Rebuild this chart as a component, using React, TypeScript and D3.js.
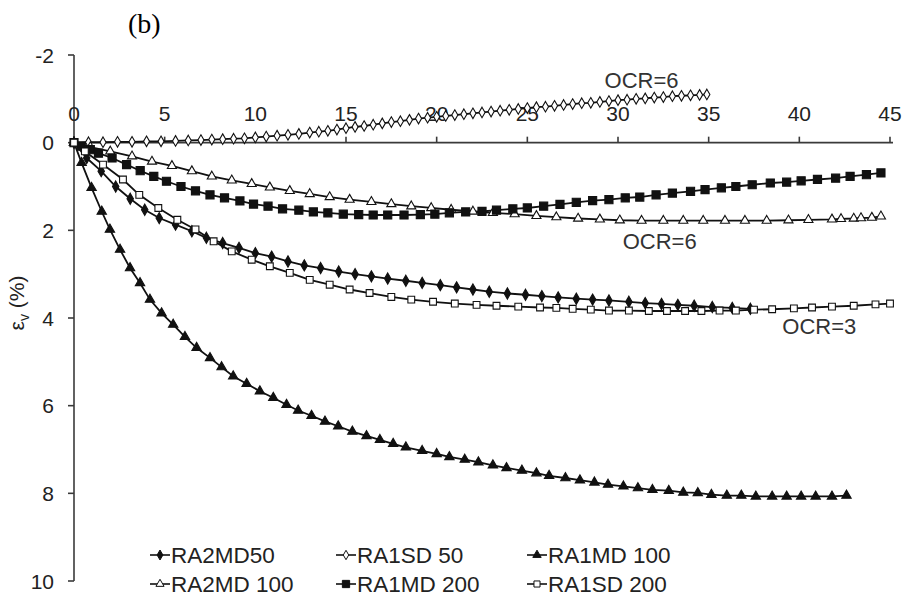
import React from 'react'
import * as d3 from 'd3'

// series, [displacement, strain] pairs
const ra2md50: [number, number][] = [[0,0],[0.7,0.35],[1.5,0.65],[2.3,1.0],[3.1,1.28],[3.9,1.53],[4.7,1.72],[5.6,1.87],[6.5,2.02],[7.3,2.17],[8.2,2.29],[9.1,2.4],[10.0,2.52],[10.9,2.6],[11.8,2.71],[12.7,2.8],[13.6,2.86],[14.6,2.94],[15.5,3.0],[16.4,3.05],[17.3,3.1],[18.3,3.15],[19.2,3.2],[20.2,3.25],[21.1,3.3],[22.0,3.35],[22.9,3.4],[23.9,3.44],[24.9,3.47],[25.8,3.5],[26.7,3.53],[27.7,3.56],[28.6,3.58],[29.5,3.6],[30.6,3.63],[31.5,3.66],[32.4,3.68],[33.3,3.7],[34.2,3.72],[35.2,3.75],[36.3,3.77],[37.3,3.79]]
const ra1sd50: [number, number][] = [[0,0],[0.8,-0.01],[1.6,-0.01],[2.4,-0.02],[3.2,-0.02],[4.0,-0.03],[4.8,-0.03],[5.6,-0.04],[6.3,-0.05],[7.0,-0.06],[7.6,-0.07],[8.2,-0.08],[8.8,-0.09],[9.4,-0.1],[10.0,-0.12],[10.6,-0.14],[11.2,-0.16],[11.8,-0.18],[12.4,-0.2],[13.0,-0.23],[13.5,-0.25],[14.0,-0.27],[14.5,-0.3],[15.0,-0.33],[15.5,-0.36],[16.0,-0.38],[16.5,-0.41],[17.0,-0.44],[17.5,-0.47],[18.0,-0.49],[18.5,-0.52],[19.0,-0.55],[19.5,-0.57],[20.0,-0.59],[20.5,-0.61],[21.0,-0.63],[21.5,-0.65],[22.0,-0.67],[22.5,-0.69],[23.0,-0.71],[23.5,-0.73],[24.0,-0.75],[24.5,-0.77],[25.0,-0.79],[25.5,-0.81],[26.0,-0.82],[26.5,-0.84],[27.0,-0.86],[27.5,-0.88],[28.0,-0.9],[28.5,-0.91],[29.0,-0.93],[29.5,-0.95],[30.0,-0.97],[30.5,-0.98],[31.0,-1.0],[31.5,-1.01],[32.0,-1.03],[32.5,-1.04],[33.0,-1.06],[33.5,-1.07],[34.0,-1.08],[34.5,-1.09],[34.9,-1.1]]
const ra1md100: [number, number][] = [[0,0],[0.42,0.46],[0.97,1.03],[1.53,1.57],[1.98,1.98],[2.54,2.44],[3.09,2.86],[3.64,3.2],[4.19,3.58],[4.83,3.89],[5.47,4.15],[6.12,4.43],[6.76,4.68],[7.5,4.91],[8.14,5.12],[8.78,5.33],[9.52,5.5],[10.25,5.67],[10.99,5.82],[11.72,5.98],[12.36,6.11],[13.1,6.23],[13.84,6.36],[14.57,6.47],[15.35,6.59],[16.13,6.69],[16.87,6.78],[17.6,6.87],[18.3,6.95],[19.2,7.03],[20.0,7.1],[20.7,7.17],[21.55,7.23],[22.3,7.29],[23.1,7.36],[23.85,7.42],[24.7,7.48],[25.5,7.54],[26.2,7.6],[27.1,7.65],[27.9,7.7],[28.7,7.75],[29.45,7.8],[30.3,7.84],[31.1,7.88],[31.9,7.92],[32.8,7.94],[33.6,7.98],[34.4,7.99],[35.15,8.03],[36.0,8.05],[36.8,8.05],[37.6,8.07],[38.5,8.07],[39.3,8.07],[40.1,8.07],[40.9,8.07],[41.8,8.07],[42.6,8.05]]
const ra2md100: [number, number][] = [[0,0],[0.9,0.1],[2.0,0.2],[3.2,0.31],[4.3,0.43],[5.4,0.53],[6.5,0.65],[7.6,0.77],[8.7,0.86],[9.8,0.94],[10.8,1.02],[11.9,1.1],[13.0,1.17],[14.1,1.24],[15.2,1.3],[16.4,1.35],[17.5,1.4],[18.6,1.45],[19.7,1.49],[20.8,1.53],[22.0,1.57],[23.1,1.6],[24.3,1.63],[25.5,1.67],[26.6,1.7],[27.8,1.73],[29.0,1.75],[30.1,1.77],[31.3,1.78],[32.5,1.78],[33.6,1.78],[34.7,1.78],[35.9,1.78],[37.0,1.78],[38.2,1.78],[39.4,1.77],[40.5,1.76],[41.8,1.75],[42.3,1.74],[43.0,1.73],[43.4,1.72],[44.0,1.71],[44.5,1.68]]
const ra1md200: [number, number][] = [[0,0],[0.4,0.08],[0.9,0.16],[1.35,0.24],[2.1,0.35],[2.9,0.5],[3.65,0.64],[4.4,0.77],[5.1,0.88],[5.9,1.0],[6.7,1.1],[7.5,1.19],[8.3,1.26],[9.15,1.33],[9.9,1.4],[10.7,1.45],[11.5,1.51],[12.4,1.54],[13.2,1.58],[14.0,1.6],[14.85,1.63],[15.7,1.64],[16.5,1.65],[17.3,1.65],[18.2,1.65],[19.1,1.64],[19.9,1.63],[20.7,1.6],[21.6,1.58],[22.5,1.57],[23.3,1.54],[24.2,1.51],[25.0,1.49],[25.9,1.45],[26.8,1.41],[27.7,1.36],[28.6,1.32],[29.5,1.3],[30.4,1.26],[31.2,1.24],[32.1,1.19],[33.0,1.15],[34.0,1.11],[34.8,1.07],[35.7,1.03],[36.5,1.0],[37.4,0.96],[38.4,0.92],[39.3,0.9],[40.1,0.87],[41.0,0.84],[42.0,0.81],[42.8,0.77],[43.7,0.73],[44.5,0.69]]
const ra1sd200: [number, number][] = [[0,0],[0.6,0.2],[1.6,0.5],[2.7,0.84],[3.6,1.19],[4.65,1.49],[5.7,1.76],[6.7,1.98],[7.7,2.25],[8.7,2.48],[9.8,2.67],[10.8,2.82],[11.9,2.97],[13.0,3.13],[14.1,3.24],[15.2,3.35],[16.3,3.43],[17.5,3.52],[18.6,3.58],[19.8,3.63],[21.0,3.67],[22.2,3.7],[23.3,3.72],[24.5,3.74],[25.7,3.76],[26.6,3.77],[27.5,3.79],[28.5,3.81],[29.5,3.83],[30.6,3.83],[31.7,3.84],[32.7,3.84],[33.7,3.84],[34.6,3.84],[35.6,3.83],[36.5,3.83],[37.5,3.81],[38.5,3.8],[39.7,3.78],[40.7,3.76],[41.8,3.74],[43.0,3.72],[44.2,3.69],[45.0,3.67]]

const xTicks = [0, 5, 10, 15, 20, 25, 30, 35, 40, 45]
const yTicks = [-2, 0, 2, 4, 6, 8, 10]

const series = [
  { name: 'RA2MD50', data: ra2md50, shape: d3.symbolDiamond, size: 36, filled: true },
  { name: 'RA1SD 50', data: ra1sd50, shape: d3.symbolDiamond, size: 32, filled: false },
  { name: 'RA1MD 100', data: ra1md100, shape: d3.symbolTriangle, size: 38, filled: true },
  { name: 'RA2MD 100', data: ra2md100, shape: d3.symbolTriangle, size: 36, filled: false },
  { name: 'RA1MD 200', data: ra1md200, shape: d3.symbolSquare, size: 66, filled: true },
  { name: 'RA1SD 200', data: ra1sd200, shape: d3.symbolSquare, size: 46, filled: false },
]

const notes = [
  { text: 'OCR=6', x: 31.3, y: -1.42 },
  { text: 'OCR=6', x: 32.3, y: 2.25 },
  { text: 'OCR=3', x: 41.1, y: 4.2 },
]

const font = 'Liberation Sans, Arial, sans-serif'

export default function App() {
  const x = d3.scaleLinear().domain([0, 45]).range([74, 890])
  const y = d3.scaleLinear().domain([-2, 10]).range([55, 581])
  const line = d3.line<[number, number]>().x(d => x(d[0])).y(d => y(d[1]))
  const y0 = y(0)

  return (
    <svg width={906} height={607} style={{ position: 'absolute', left: 0, top: 0, background: '#fff' }}>
      <text x={128} y={33} fontFamily="Times New Roman, Liberation Serif, serif" fontSize={28}>(b)</text>

      {/* axes */}
      <g stroke="#3a3a3a" strokeWidth={1.6}>
        <line x1={x(0)} x2={x(0)} y1={y(-2)} y2={y(10)} />
        {yTicks.map(t => <line key={t} x1={x(0) - 6} x2={x(0)} y1={y(t)} y2={y(t)} />)}
        <line x1={x(0)} x2={893} y1={y0} y2={y0} />
        {xTicks.map(t => <line key={t} x1={x(t)} x2={x(t)} y1={y0 - 6} y2={y0} />)}
      </g>
      <g fontFamily={font} fontSize={21} fill="#222">
        {yTicks.map(t => (
          <text key={t} x={x(0) - 20} y={y(t)} textAnchor="end" dominantBaseline="central">{t}</text>
        ))}
        {xTicks.map(t => (
          <text key={t} x={x(t)} y={y0 - 29} textAnchor="middle" dominantBaseline="central">{t}</text>
        ))}
      </g>
      <text transform="translate(24,303) rotate(-90)" fontFamily={font} fontSize={21} textAnchor="middle" fill="#222">
        ε<tspan fontSize={14} dy={5}>v</tspan><tspan dy={-5}> (%)</tspan>
      </text>

      {/* lines */}
      {series.map(s => (
        <path key={s.name} d={line(s.data) || ''} fill="none" stroke="#111" strokeWidth={1.8} />
      ))}
      {/* markers */}
      {series.map(s => (
        <g key={s.name + 'm'}>
          {s.data.map((d, i) => (
            <path key={i} transform={`translate(${x(d[0])},${y(d[1])})`}
              d={d3.symbol().type(s.shape).size(s.size)() || ''}
              fill={s.filled ? '#111' : '#fff'} stroke="#111" strokeWidth={1.1} />
          ))}
        </g>
      ))}

      <g fontFamily={font} fontSize={22} fill="#333">
        {notes.map((n, i) => (
          <text key={i} x={x(n.x)} y={y(n.y)} textAnchor="middle" dominantBaseline="central">{n.text}</text>
        ))}
      </g>

      {/* legend */}
      {series.map((s, i) => {
        const lx = [150, 336, 527][i % 3]
        const ly = i < 3 ? 555 : 584
        return (
          <g key={s.name + 'l'} transform={`translate(${lx},${ly})`}>
            <line x1={0} x2={20} y1={0} y2={0} stroke="#111" strokeWidth={1.6} />
            <path transform="translate(10,0)" d={d3.symbol().type(s.shape).size(s.size * 0.8)() || ''}
              fill={s.filled ? '#111' : '#fff'} stroke="#111" strokeWidth={1} />
            <text x={21} y={0} dominantBaseline="central" fontFamily={font} fontSize={22.5} fill="#222">{s.name}</text>
          </g>
        )
      })}
    </svg>
  )
}
